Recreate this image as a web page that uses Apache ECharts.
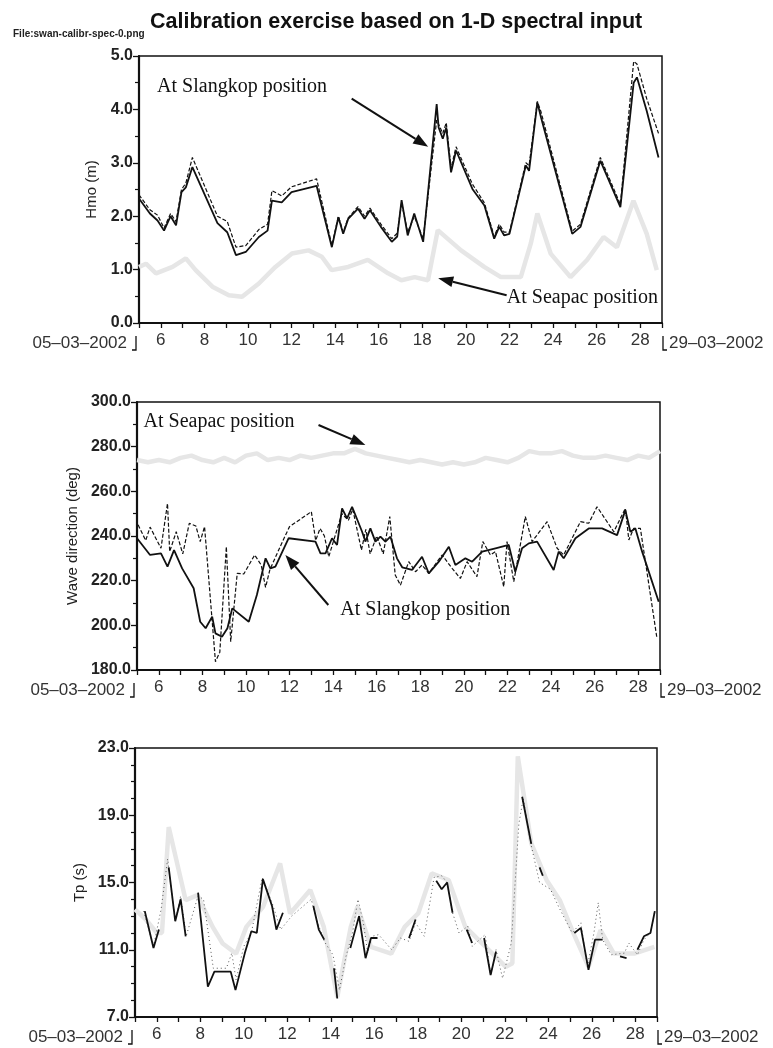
<!DOCTYPE html>
<html>
<head>
<meta charset="utf-8">
<title>Calibration exercise based on 1-D spectral input</title>
<script src="https://cdn.jsdelivr.net/npm/echarts@6/dist/echarts.min.js"></script>
<style>
  html, body { margin: 0; padding: 0; background: #fff; }
  #chart { width: 773px; height: 1048px; }
</style>
</head>
<body>
<div id="chart"></div>
<script>
// days are day-of-month, March 2002 (axis runs 05-03 .. 29-03)

// --- panel 1: Hmo (m) ---
const hmoDays = [5.0, 5.5, 5.85, 6.15, 6.45, 6.7, 6.95, 7.15, 7.45, 8.6, 9.05, 9.45, 9.9, 10.5, 10.9, 11.1, 11.55, 12.0, 13.15, 13.85,
  14.15, 14.37, 14.6, 15.05, 15.35, 15.6, 16.1, 16.6, 16.85, 17.05, 17.33, 17.63, 18.04, 18.66, 18.75, 18.94, 19.1, 19.32, 19.55, 20.3,
  20.85, 21.3, 21.53, 21.76, 22.0, 22.75, 22.9, 23.28, 23.45, 24.88, 25.26, 26.17, 27.09, 27.7, 27.85, 28.3, 28.84];
const hmoSlangSolid = [2.33, 2.05, 1.92, 1.73, 2.0, 1.83, 2.45, 2.54, 2.92, 1.87, 1.70, 1.27, 1.33, 1.61, 1.73, 2.29, 2.26, 2.45, 2.57, 1.42,
  1.98, 1.67, 1.95, 2.14, 1.95, 2.11, 1.80, 1.52, 1.62, 2.30, 1.64, 2.05, 1.52, 4.10, 3.66, 3.45, 3.66, 2.82, 3.23, 2.51,
  2.20, 1.58, 1.80, 1.64, 1.67, 2.95, 2.85, 4.13, 3.85, 1.67, 1.80, 3.04, 2.17, 4.50, 4.60, 3.97, 3.10];
const hmoSlangDashed = [2.40, 2.12, 2.02, 1.78, 2.05, 1.90, 2.50, 2.62, 3.10, 2.00, 1.90, 1.42, 1.45, 1.75, 1.85, 2.48, 2.38, 2.55, 2.70, 1.45,
  2.00, 1.70, 1.97, 2.18, 2.00, 2.15, 1.85, 1.58, 1.68, 2.25, 1.70, 2.00, 1.58, 3.80, 3.78, 3.55, 3.75, 2.90, 3.30, 2.60,
  2.25, 1.62, 1.85, 1.70, 1.70, 3.00, 2.95, 4.15, 3.95, 1.72, 1.85, 3.10, 2.22, 4.90, 4.85, 4.20, 3.55];
const hmoSeapacDays = [5.0, 5.32, 5.78, 6.54, 7.15, 7.6, 8.37, 9.12, 9.73, 10.5, 11.26, 12.02, 12.78, 13.39, 13.84, 14.6, 15.5, 16.43,
  17.04, 17.65, 18.26, 18.71, 19.78, 20.84, 21.61, 22.52, 22.98, 23.28, 23.89, 24.80, 25.56, 26.32, 26.93, 27.69, 28.30, 28.76];
const hmoSeapac = [1.05, 1.11, 0.93, 1.05, 1.21, 0.99, 0.68, 0.52, 0.49, 0.74, 1.05, 1.30, 1.36, 1.24, 0.99, 1.05, 1.18, 0.93,
  0.80, 0.86, 0.80, 1.74, 1.36, 1.05, 0.86, 0.86, 1.49, 2.05, 1.30, 0.86, 1.18, 1.61, 1.42, 2.29, 1.67, 0.99];

// --- panel 2: wave direction (deg) ---
const dirSolidDays = [5.0, 5.6, 6.1, 6.4, 6.7, 7.07, 7.6, 7.9, 8.15, 8.45, 8.6, 8.9, 9.15, 9.37, 10.13, 10.5, 10.9, 11.12, 11.35, 11.96,
  13.19, 13.42, 13.65, 13.95, 14.18, 14.41, 14.64, 14.87, 15.33, 15.48, 15.71, 15.94, 16.17, 16.4, 16.63, 16.93, 17.17, 17.62, 18.08, 18.39,
  18.85, 19.31, 19.61, 20.07, 20.38, 20.84, 21.45, 22.06, 22.36, 22.67, 22.98, 23.36, 24.12, 24.35, 24.58, 25.12, 25.73, 26.34, 27.03, 27.41,
  27.64, 27.87, 28.18, 28.94];
const dirSlangSolid = [239, 231.5, 232.2, 226.3, 233.7, 225.5, 216.6, 201.6, 198.7, 203.9, 196.4, 194.9, 198.7, 207.6, 201.6, 213.6, 230, 225.5, 226.3, 239,
  237.5, 232.2, 232.2, 239, 236, 252.4, 247.9, 253.1, 241.9, 237.5, 243.4, 237.5, 239.7, 237.5, 239.7, 230, 226, 224.8, 230.7, 223.3,
  228.5, 235.2, 227, 230, 228.5, 233, 234.5, 236, 224, 234.5, 236.7, 237.5, 224.8, 233, 230, 239, 243.4, 243.4, 240.4, 251.6,
  241.9, 243.4, 233, 210.6];
const dirDashedDays = [5.05, 5.4, 5.6, 6.1, 6.4, 6.5, 6.8, 7.1, 7.4, 7.7, 7.9, 8.1, 8.6, 8.8, 9.1, 9.3, 9.6, 9.9, 10.4, 10.7,
  10.9, 11.1, 11.7, 12.0, 13.0, 13.2, 13.4, 13.6, 13.8, 14.4, 14.7, 14.9, 15.3, 15.5, 15.7, 16.0, 16.3, 16.6, 16.85, 17.09,
  17.47, 17.78, 18.08, 18.39, 19.0, 19.46, 19.84, 20.15, 20.6, 20.87, 21.22, 21.45, 21.83, 21.98, 22.29, 22.82, 23.13, 23.82, 24.28, 24.58,
  25.35, 25.73, 26.11, 26.88, 27.41, 27.57, 27.79, 28.1, 28.86];
const dirSlangDashed = [245, 238, 244, 234.5, 254.6, 233, 241.9, 232, 245.7, 244.5, 237.5, 244.2, 183.7, 188, 235.2, 192.7, 223.3, 223, 231.5, 227,
  217, 225, 238, 244.2, 250.9, 238, 243.4, 240, 230.7, 250, 247, 252, 233.7, 243, 232, 240, 232, 248.7, 222.5, 218,
  228.5, 224, 227, 223.3, 231.5, 225.5, 221, 228.5, 221.8, 237.5, 231.5, 233, 217.3, 237.5, 219.6, 248.7, 237.5, 246.4, 234.5, 231.5,
  246.4, 245.7, 253.1, 241.9, 252.4, 238.2, 243.4, 243.4, 194.2];
const dirSeapacDays = [5.0, 5.5, 6.0, 6.5, 7.0, 7.5, 8.0, 8.5, 9.0, 9.5, 10.0, 10.5, 11.0, 11.5, 12.0, 12.5, 13.0, 13.5, 14.0, 14.5,
  15.0, 15.5, 16.0, 16.5, 17.0, 17.5, 18.0, 18.5, 19.0, 19.5, 20.0, 20.5, 21.0, 21.5, 22.0, 22.5, 23.0, 23.5, 24.0, 24.5,
  25.0, 25.5, 26.0, 26.5, 27.0, 27.5, 28.0, 28.5, 29.0];
const dirSeapac = [274, 273, 274, 273, 275, 276, 274, 273, 275, 273, 276, 277, 274, 275, 274, 276, 275, 276, 277, 277,
  279, 277, 276, 275, 274, 273, 274, 273, 272, 273, 272, 273, 275, 274, 273, 275, 278, 277, 277, 278,
  276, 275, 275, 276, 275, 274, 276, 275, 278];

// --- panel 3: Tp (s) --- (null = line not visible in the print)
const tpSolidDays = [5.45, 5.85, 6.1, 6.3, 6.55, 6.85, 7.1, 7.33, 7.6, 7.9, 8.35, 8.65, 9.4, 9.62, 10.05, 10.35, 10.6, 10.88, 11.3, 11.5,
  11.8, 12.1, 13.2, 13.45, 13.7, 13.9, 14.15, 14.3, 14.5, 14.9, 15.3, 15.6, 15.85, 16.15, 16.4, 17.6, 17.9, 18.2, 18.85, 19.1,
  19.35, 19.6, 19.8, 20.25, 20.5, 20.7, 21.05, 21.35, 21.6, 21.8, 22.8, 23.22, 23.4, 23.6, 23.75, 23.9, 25.2, 25.5, 25.85, 26.15,
  26.5, 26.7, 27.3, 27.6, 27.8, 28.1, 28.4, 28.7, 28.9];
const tpSlangSolid = [13.3, 11.1, 12.2, null, 15.9, 12.7, 14.0, 11.8, null, 14.4, 8.8, 9.7, 9.7, 8.6, 10.8, 12.1, 12.0, 15.2, 13.6, 12.2,
  13.2, null, 13.6, 12.2, 11.6, null, 9.9, 8.1, null, 11.1, 13.0, 10.5, 11.7, 11.7, null, 11.7, 12.8, null, 15.1, 14.6,
  15.0, 13.2, null, 12.2, 11.4, null, 11.7, 9.5, 10.9, null, 20.1, 17.3, null, 15.9, 15.4, null, 12.0, 12.3, 9.8, 11.6,
  11.6, null, 10.6, 10.5, null, 11.0, 11.8, 12.0, 13.3];
const tpDashedDays = [5.4, 5.85, 6.2, 6.5, 6.85, 7.1, 7.35, 7.9, 8.15, 8.6, 9.2, 9.45, 9.65, 10.0, 10.35, 10.85, 11.3, 11.5, 11.7, 12.2,
  13.1, 13.4, 13.7, 14.1, 14.4, 14.7, 15.0, 15.25, 15.5, 15.7, 15.9, 16.2, 16.8, 17.2, 17.6, 17.9, 18.3, 18.75, 19.1, 19.35,
  19.6, 19.9, 20.3, 20.5, 21.1, 21.35, 21.6, 21.9, 22.3, 22.65, 22.85, 23.2, 23.6, 24.1, 24.5, 25.1, 25.5, 25.8, 26.1, 26.3,
  26.5, 26.9, 27.5, 27.7, 28.1, 28.4, 28.7, 28.9];
const tpSlangDashed = [13.3, 11.2, 13.4, 16.4, 12.7, 14.2, 11.8, 14.2, 14.0, 9.9, 9.9, 10.8, 9.2, 11.2, 12.0, 15.3, 13.8, 13.0, 12.2, 13.0,
  14.0, 12.6, 11.5, 10.7, 8.6, 10.6, 12.0, 14.0, 12.6, 10.8, 11.8, 11.9, 11.0, 11.7, 11.5, 12.6, 11.8, 15.3, 15.4, 15.0,
  13.2, 12.0, 12.4, 11.2, 11.9, 9.5, 11.0, 9.3, 11.4, 18.5, 20.0, 17.3, 15.0, 14.6, 13.5, 12.0, 12.6, 10.0, 12.0, 13.8,
  11.6, 10.7, 10.8, 11.4, 10.7, 11.6, 12.0, 13.3];
const tpSeapacDays = [5.0, 5.5, 6.0, 6.24, 6.55, 7.33, 7.87, 8.57, 9.03, 9.65, 10.12, 10.89, 11.67, 12.13, 13.06, 13.68, 14.3, 14.92, 15.23, 15.85,
  16.78, 17.4, 18.02, 18.64, 19.42, 20.19, 21.12, 22.05, 22.35, 22.6, 23.22, 23.92, 24.53, 25.16, 25.85, 26.4, 27.02, 27.95, 28.88];
const tpSeapac = [13.4, 12.8, 12.0, 12.0, 18.3, 13.95, 14.25, 12.36, 11.37, 10.77, 12.36, 13.56, 16.14, 13.16, 14.55, 12.36, 8.19, 12.36, 13.56, 11.17,
  10.77, 12.36, 13.16, 15.54, 15.15, 12.36, 11.17, 9.98, 10.2, 22.5, 17.33, 15.15, 13.95, 11.97, 9.98, 12.16, 10.77, 10.77, 11.17];

// axis ranges
const yRanges = [
  { name: 'Hmo (m)', min: 0, max: 5, interval: 1, minor: 2, gap: 31 },
  { name: 'Wave direction (deg)', min: 180, max: 300, interval: 20, minor: 2, gap: 49 },
  { name: 'Tp (s)', min: 7, max: 23, interval: 4, minor: 4, gap: 46 }
];
const startLabel = '05\u201303\u20132002';
const endLabel = '29\u201303\u20132002';

const pairs = (days, vals) => days.map((d, i) => [d, vals[i]]);

const chart = echarts.init(document.getElementById('chart'));

const ink = '#111';
const grids = [
  { left: 139, right: 111, top: 56, height: 267 },
  { left: 137, right: 113, top: 402, height: 268 },
  { left: 135, right: 116, top: 748, height: 269 }
].map(g => Object.assign(g, { show: true, borderColor: ink, borderWidth: 1.5, backgroundColor: 'transparent' }));

const xAxes = grids.map((g, i) => ({
  type: 'value', gridIndex: i, min: 5, max: 29, interval: 1,
  axisLine: { show: true, lineStyle: { color: ink, width: 2 } },
  axisTick: { show: true, length: 5, lineStyle: { color: ink, width: 1.3 } },
  axisLabel: {
    margin: 9, fontSize: 17, color: '#333', fontFamily: 'Liberation Sans',
    formatter: v => (v % 2 === 0 && v > 5 && v < 29) ? String(v) : ''
  },
  splitLine: { show: false }
}));

const yAxes = yRanges.map((r, i) => ({
  type: 'value', gridIndex: i, min: r.min, max: r.max, interval: r.interval,
  name: r.name, nameLocation: 'middle', nameGap: r.gap,
  nameTextStyle: { fontSize: 15, color: '#222', fontFamily: 'Liberation Sans' },
  axisLine: { show: true, lineStyle: { color: ink, width: 2.2 } },
  axisTick: { show: true, length: 6, lineStyle: { color: ink, width: 1.3 } },
  minorTick: { show: true, splitNumber: r.minor, length: 4, lineStyle: { color: ink, width: 1.2 } },
  axisLabel: {
    margin: 6, fontSize: 16, fontWeight: 'bold', color: '#222', fontFamily: 'Liberation Sans',
    formatter: v => v.toFixed(1)
  },
  splitLine: { show: false }
}));

function seapac(i, data) {
  return { type: 'line', xAxisIndex: i, yAxisIndex: i, data, symbol: 'none', z: 1,
    lineStyle: { color: '#e6e6e6', width: 4.5 } };
}
function dashed(i, data, faint) {
  return { type: 'line', xAxisIndex: i, yAxisIndex: i, data, symbol: 'none', z: 2,
    lineStyle: { color: faint ? '#555' : ink, width: faint ? 1 : 1.2, type: faint ? [1, 3] : [4, 2] } };
}
function solid(i, data) {
  return { type: 'line', xAxisIndex: i, yAxisIndex: i, data, symbol: 'none', z: 3, connectNulls: false,
    lineStyle: { color: ink, width: 1.8 } };
}

chart.setOption({
  animation: false,
  textStyle: { fontFamily: 'Liberation Sans' },
  title: {
    text: 'Calibration exercise based on 1-D spectral input', left: 145, top: 6,
    textStyle: { fontSize: 21.5, fontWeight: 'bold', color: '#111', fontFamily: 'Liberation Sans' }
  },
  grid: grids,
  xAxis: xAxes,
  yAxis: yAxes,
  series: [
    seapac(0, pairs(hmoSeapacDays, hmoSeapac)),
    dashed(0, pairs(hmoDays, hmoSlangDashed)),
    solid(0, pairs(hmoDays, hmoSlangSolid)),
    seapac(1, pairs(dirSeapacDays, dirSeapac)),
    dashed(1, pairs(dirDashedDays, dirSlangDashed)),
    solid(1, pairs(dirSolidDays, dirSlangSolid)),
    seapac(2, pairs(tpSeapacDays, tpSeapac)),
    dashed(2, pairs(tpDashedDays, tpSlangDashed), true),
    solid(2, pairs(tpSolidDays, tpSlangSolid))
  ]
});

// ---- annotations, anchored in data coordinates ----
const px = (i, p) => chart.convertToPixel({ gridIndex: i }, p);

function arrow(i, from, to) {
  const p0 = px(i, from), p1 = px(i, to);
  const dx = p1[0] - p0[0], dy = p1[1] - p0[1];
  const len = Math.hypot(dx, dy), ux = dx / len, uy = dy / len;
  const hl = 15, hw = 5.5;
  const bx = p1[0] - ux * hl, by = p1[1] - uy * hl;
  return [
    { type: 'line', shape: { x1: p0[0], y1: p0[1], x2: bx, y2: by }, style: { stroke: ink, lineWidth: 2 }, z: 10 },
    { type: 'polygon', shape: { points: [[p1[0], p1[1]], [bx - uy * hw, by + ux * hw], [bx + uy * hw, by - ux * hw]] },
      style: { fill: ink }, z: 10 }
  ];
}
function note(i, at, text) {
  const p = px(i, at);
  return { type: 'text', x: p[0], y: p[1], z: 10,
    style: { text, font: '20px "Liberation Serif"', fill: '#111', verticalAlign: 'middle' } };
}

const graphics = [
  { type: 'text', x: 13, y: 34, style: { text: 'File:swan-calibr-spec-0.png', font: 'bold 10px "Liberation Sans Narrow", "Liberation Sans"', fill: '#222', verticalAlign: 'middle' } },
  note(0, [5.83, 4.43], 'At Slangkop position'),
  ...arrow(0, [14.76, 4.2], [18.27, 3.3]),
  note(0, [21.88, 0.47], 'At Seapac position'),
  ...arrow(0, [21.87, 0.52], [18.73, 0.84]),
  note(1, [5.3, 291], 'At Seapac position'),
  ...arrow(1, [13.33, 289.7], [15.48, 280.7]),
  note(1, [14.33, 206.9], 'At Slangkop position'),
  ...arrow(1, [13.78, 209.1], [11.81, 231.5])
];

// start / end date labels under each x axis
yRanges.forEach((r, i) => {
  const a = px(i, [5, r.min]), b = px(i, [29, r.min]);
  graphics.push(
    { type: 'text', x: a[0] - 12, y: a[1] + 20, style: { text: startLabel, font: '17px "Liberation Sans"', fill: '#333', align: 'right', verticalAlign: 'middle' } },
    { type: 'polyline', shape: { points: [[a[0] - 7, a[1] + 27], [a[0] - 3, a[1] + 27], [a[0] - 3, a[1] + 13]] }, style: { stroke: ink, lineWidth: 1.3, fill: null } },
    { type: 'polyline', shape: { points: [[b[0] + 1, b[1] + 13], [b[0] + 1, b[1] + 27], [b[0] + 5, b[1] + 27]] }, style: { stroke: ink, lineWidth: 1.3, fill: null } },
    { type: 'text', x: b[0] + 7, y: b[1] + 20, style: { text: endLabel, font: '17px "Liberation Sans"', fill: '#333', align: 'left', verticalAlign: 'middle' } }
  );
});

chart.setOption({ graphic: graphics });
</script>
</body>
</html>
